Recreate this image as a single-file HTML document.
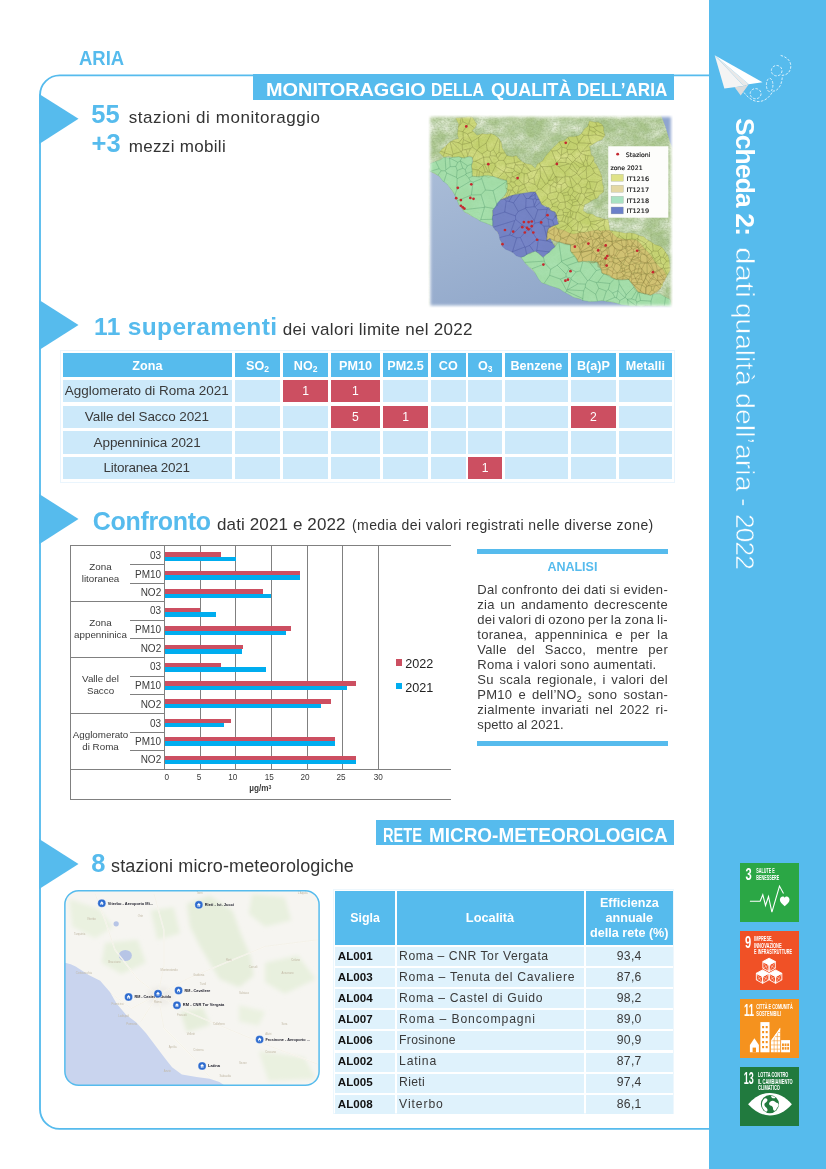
<!DOCTYPE html>
<html lang="it"><head><meta charset="utf-8"><title>Scheda 2: dati qualità dell'aria - 2022</title>
<style>
html,body{margin:0;padding:0;background:#fff}
body{width:826px;height:1169px;position:relative;overflow:hidden;font-family:"Liberation Sans",sans-serif}
.t{position:absolute;white-space:nowrap;display:block}
.a{position:absolute;display:block}
sub{font-size:68%;vertical-align:baseline;position:relative;top:.3em;line-height:0}
sup{font-size:62%;vertical-align:baseline;position:relative;top:-.45em;line-height:0}
</style></head><body>
<div class="a" style="left:708.5px;top:0;width:117.5px;height:1169px;background:#56bbed"></div>
<svg class="a" style="left:0;top:0" width="720" height="1169" viewBox="0 0 720 1169"><path d="M709,75.4 H59.7 A19.7,19.7 0 0 0 40,95.1 V1109.2 A19.7,19.7 0 0 0 59.7,1128.9 H709" fill="none" stroke="#56bbed" stroke-width="1.85"/></svg>
<svg class="a" style="left:38px;top:94.4px" width="44" height="49.9" viewBox="0 0 44 49.9"><polygon points="1.2,0 40.5,24.8 1.2,49.9" fill="#56bbed"/></svg>
<svg class="a" style="left:38px;top:299.8px" width="44" height="50.0" viewBox="0 0 44 50.0"><polygon points="1.2,0 40.5,24.9 1.2,50.0" fill="#56bbed"/></svg>
<svg class="a" style="left:38px;top:494.3px" width="44" height="50.2" viewBox="0 0 44 50.2"><polygon points="1.2,0 40.5,25.0 1.2,50.2" fill="#56bbed"/></svg>
<svg class="a" style="left:38px;top:838.9px" width="44" height="50.0" viewBox="0 0 44 50.0"><polygon points="1.2,0 40.5,25.1 1.2,50.0" fill="#56bbed"/></svg>
<div class="a" style="left:252.8px;top:74.3px;width:421px;height:25.7px;background:#56bbed"></div>
<div class="a" style="left:376.4px;top:820.3px;width:297.6px;height:25px;background:#56bbed"></div>
<div class="a" style="left:60.3px;top:350.2px;width:614.5px;height:132.5px;border:1px solid #eaf5fd;box-sizing:border-box"></div>
<div class="a" style="left:63px;top:353.3px;width:168.8px;height:23.6px;background:#56bbed"></div>
<div class="a" style="left:235px;top:353.3px;width:45.0px;height:23.6px;background:#56bbed"></div>
<div class="a" style="left:283.4px;top:353.3px;width:44.6px;height:23.6px;background:#56bbed"></div>
<div class="a" style="left:331px;top:353.3px;width:49.0px;height:23.6px;background:#56bbed"></div>
<div class="a" style="left:383.3px;top:353.3px;width:44.5px;height:23.6px;background:#56bbed"></div>
<div class="a" style="left:431px;top:353.3px;width:34.6px;height:23.6px;background:#56bbed"></div>
<div class="a" style="left:468.4px;top:353.3px;width:33.6px;height:23.6px;background:#56bbed"></div>
<div class="a" style="left:505.2px;top:353.3px;width:62.4px;height:23.6px;background:#56bbed"></div>
<div class="a" style="left:571.2px;top:353.3px;width:44.5px;height:23.6px;background:#56bbed"></div>
<div class="a" style="left:619px;top:353.3px;width:52.7px;height:23.6px;background:#56bbed"></div>
<div class="a" style="left:63px;top:379.7px;width:168.8px;height:22.8px;background:#cce9fa"></div>
<div class="a" style="left:235px;top:379.7px;width:45.0px;height:22.8px;background:#cce9fa"></div>
<div class="a" style="left:283.4px;top:379.7px;width:44.6px;height:22.8px;background:#cc4f61"></div>
<div class="a" style="left:331px;top:379.7px;width:49.0px;height:22.8px;background:#cc4f61"></div>
<div class="a" style="left:383.3px;top:379.7px;width:44.5px;height:22.8px;background:#cce9fa"></div>
<div class="a" style="left:431px;top:379.7px;width:34.6px;height:22.8px;background:#cce9fa"></div>
<div class="a" style="left:468.4px;top:379.7px;width:33.6px;height:22.8px;background:#cce9fa"></div>
<div class="a" style="left:505.2px;top:379.7px;width:62.4px;height:22.8px;background:#cce9fa"></div>
<div class="a" style="left:571.2px;top:379.7px;width:44.5px;height:22.8px;background:#cce9fa"></div>
<div class="a" style="left:619px;top:379.7px;width:52.7px;height:22.8px;background:#cce9fa"></div>
<div class="a" style="left:63px;top:405.5px;width:168.8px;height:22.7px;background:#cce9fa"></div>
<div class="a" style="left:235px;top:405.5px;width:45.0px;height:22.7px;background:#cce9fa"></div>
<div class="a" style="left:283.4px;top:405.5px;width:44.6px;height:22.7px;background:#cce9fa"></div>
<div class="a" style="left:331px;top:405.5px;width:49.0px;height:22.7px;background:#cc4f61"></div>
<div class="a" style="left:383.3px;top:405.5px;width:44.5px;height:22.7px;background:#cc4f61"></div>
<div class="a" style="left:431px;top:405.5px;width:34.6px;height:22.7px;background:#cce9fa"></div>
<div class="a" style="left:468.4px;top:405.5px;width:33.6px;height:22.7px;background:#cce9fa"></div>
<div class="a" style="left:505.2px;top:405.5px;width:62.4px;height:22.7px;background:#cce9fa"></div>
<div class="a" style="left:571.2px;top:405.5px;width:44.5px;height:22.7px;background:#cc4f61"></div>
<div class="a" style="left:619px;top:405.5px;width:52.7px;height:22.7px;background:#cce9fa"></div>
<div class="a" style="left:63px;top:431.3px;width:168.8px;height:22.7px;background:#cce9fa"></div>
<div class="a" style="left:235px;top:431.3px;width:45.0px;height:22.7px;background:#cce9fa"></div>
<div class="a" style="left:283.4px;top:431.3px;width:44.6px;height:22.7px;background:#cce9fa"></div>
<div class="a" style="left:331px;top:431.3px;width:49.0px;height:22.7px;background:#cce9fa"></div>
<div class="a" style="left:383.3px;top:431.3px;width:44.5px;height:22.7px;background:#cce9fa"></div>
<div class="a" style="left:431px;top:431.3px;width:34.6px;height:22.7px;background:#cce9fa"></div>
<div class="a" style="left:468.4px;top:431.3px;width:33.6px;height:22.7px;background:#cce9fa"></div>
<div class="a" style="left:505.2px;top:431.3px;width:62.4px;height:22.7px;background:#cce9fa"></div>
<div class="a" style="left:571.2px;top:431.3px;width:44.5px;height:22.7px;background:#cce9fa"></div>
<div class="a" style="left:619px;top:431.3px;width:52.7px;height:22.7px;background:#cce9fa"></div>
<div class="a" style="left:63px;top:457px;width:168.8px;height:22.3px;background:#cce9fa"></div>
<div class="a" style="left:235px;top:457px;width:45.0px;height:22.3px;background:#cce9fa"></div>
<div class="a" style="left:283.4px;top:457px;width:44.6px;height:22.3px;background:#cce9fa"></div>
<div class="a" style="left:331px;top:457px;width:49.0px;height:22.3px;background:#cce9fa"></div>
<div class="a" style="left:383.3px;top:457px;width:44.5px;height:22.3px;background:#cce9fa"></div>
<div class="a" style="left:431px;top:457px;width:34.6px;height:22.3px;background:#cce9fa"></div>
<div class="a" style="left:468.4px;top:457px;width:33.6px;height:22.3px;background:#cc4f61"></div>
<div class="a" style="left:505.2px;top:457px;width:62.4px;height:22.3px;background:#cce9fa"></div>
<div class="a" style="left:571.2px;top:457px;width:44.5px;height:22.3px;background:#cce9fa"></div>
<div class="a" style="left:619px;top:457px;width:52.7px;height:22.3px;background:#cce9fa"></div>
<div class="a" style="left:70px;top:545.20px;width:381.0px;height:1px;background:#808080"></div>
<div class="a" style="left:70px;top:768.80px;width:381.0px;height:1px;background:#808080"></div>
<div class="a" style="left:70px;top:798.90px;width:381.0px;height:1px;background:#808080"></div>
<div class="a" style="left:69.80px;top:545.2px;width:1px;height:254.7px;background:#808080"></div>
<div class="a" style="left:70px;top:600.70px;width:94.5px;height:1px;background:#808080"></div>
<div class="a" style="left:70px;top:656.80px;width:94.5px;height:1px;background:#808080"></div>
<div class="a" style="left:70px;top:712.90px;width:94.5px;height:1px;background:#808080"></div>
<div class="a" style="left:164.00px;top:545.7px;width:1px;height:223.6px;background:#808080"></div>
<div class="a" style="left:199.62px;top:545.7px;width:1px;height:223.6px;background:#808080"></div>
<div class="a" style="left:235.25px;top:545.7px;width:1px;height:223.6px;background:#808080"></div>
<div class="a" style="left:270.88px;top:545.7px;width:1px;height:223.6px;background:#808080"></div>
<div class="a" style="left:306.50px;top:545.7px;width:1px;height:223.6px;background:#808080"></div>
<div class="a" style="left:342.12px;top:545.7px;width:1px;height:223.6px;background:#808080"></div>
<div class="a" style="left:377.75px;top:545.7px;width:1px;height:223.6px;background:#808080"></div>
<div class="a" style="left:130.2px;top:564.00px;width:34.3px;height:1px;background:#808080"></div>
<div class="a" style="left:130.2px;top:582.90px;width:34.3px;height:1px;background:#808080"></div>
<div class="a" style="left:130.2px;top:619.70px;width:34.3px;height:1px;background:#808080"></div>
<div class="a" style="left:130.2px;top:638.10px;width:34.3px;height:1px;background:#808080"></div>
<div class="a" style="left:130.2px;top:675.70px;width:34.3px;height:1px;background:#808080"></div>
<div class="a" style="left:130.2px;top:693.80px;width:34.3px;height:1px;background:#808080"></div>
<div class="a" style="left:130.2px;top:731.80px;width:34.3px;height:1px;background:#808080"></div>
<div class="a" style="left:130.2px;top:749.50px;width:34.3px;height:1px;background:#808080"></div>
<div class="a" style="left:164.5px;top:552.4px;width:56.7px;height:4.5px;background:#cc4f61"></div>
<div class="a" style="left:164.5px;top:556.9px;width:71.2px;height:4.4px;background:#00adef"></div>
<div class="a" style="left:164.5px;top:570.8px;width:135.2px;height:4.5px;background:#cc4f61"></div>
<div class="a" style="left:164.5px;top:575.3px;width:135.2px;height:4.4px;background:#00adef"></div>
<div class="a" style="left:164.5px;top:589.3px;width:98.5px;height:4.5px;background:#cc4f61"></div>
<div class="a" style="left:164.5px;top:593.8px;width:106.7px;height:4.4px;background:#00adef"></div>
<div class="a" style="left:164.5px;top:607.8px;width:35.7px;height:4.5px;background:#cc4f61"></div>
<div class="a" style="left:164.5px;top:612.3px;width:51.2px;height:4.4px;background:#00adef"></div>
<div class="a" style="left:164.5px;top:626.2px;width:126.7px;height:4.5px;background:#cc4f61"></div>
<div class="a" style="left:164.5px;top:630.7px;width:121.5px;height:4.4px;background:#00adef"></div>
<div class="a" style="left:164.5px;top:644.7px;width:78.5px;height:4.5px;background:#cc4f61"></div>
<div class="a" style="left:164.5px;top:649.2px;width:77.9px;height:4.4px;background:#00adef"></div>
<div class="a" style="left:164.5px;top:662.9px;width:56.7px;height:4.5px;background:#cc4f61"></div>
<div class="a" style="left:164.5px;top:667.4px;width:101.4px;height:4.4px;background:#00adef"></div>
<div class="a" style="left:164.5px;top:681.3px;width:191.6px;height:4.5px;background:#cc4f61"></div>
<div class="a" style="left:164.5px;top:685.8px;width:182.5px;height:4.4px;background:#00adef"></div>
<div class="a" style="left:164.5px;top:699.2px;width:166.3px;height:4.5px;background:#cc4f61"></div>
<div class="a" style="left:164.5px;top:703.7px;width:156.1px;height:4.4px;background:#00adef"></div>
<div class="a" style="left:164.5px;top:718.6px;width:66.6px;height:4.5px;background:#cc4f61"></div>
<div class="a" style="left:164.5px;top:723.1px;width:59px;height:4.4px;background:#00adef"></div>
<div class="a" style="left:164.5px;top:736.9px;width:170.3px;height:4.5px;background:#cc4f61"></div>
<div class="a" style="left:164.5px;top:741.4px;width:170.3px;height:4.4px;background:#00adef"></div>
<div class="a" style="left:164.5px;top:755.6px;width:191.6px;height:4.5px;background:#cc4f61"></div>
<div class="a" style="left:164.5px;top:760.1px;width:191.6px;height:4.4px;background:#00adef"></div>
<div class="a" style="left:395.9px;top:659.2px;width:6.6px;height:6.5px;background:#cc4f61"></div>
<div class="a" style="left:395.9px;top:682.7px;width:6.6px;height:6.5px;background:#00adef"></div>
<div class="a" style="left:477px;top:549.4px;width:191px;height:4.7px;background:#56bbed"></div>
<div class="a" style="left:477px;top:741.4px;width:191px;height:4.7px;background:#56bbed"></div>
<div class="a" style="left:333.2px;top:889.4px;width:341px;height:225px;border:1px solid #edf7fd;box-sizing:border-box"></div>
<div class="a" style="left:334.7px;top:890.9px;width:60.0px;height:54px;background:#56bbed"></div>
<div class="a" style="left:396.7px;top:890.9px;width:187.0px;height:54px;background:#56bbed"></div>
<div class="a" style="left:585.7px;top:890.9px;width:87.2px;height:54px;background:#56bbed"></div>
<div class="a" style="left:334.7px;top:946.7px;width:60.0px;height:19px;background:#dff2fc"></div>
<div class="a" style="left:396.7px;top:946.7px;width:187.0px;height:19px;background:#dff2fc"></div>
<div class="a" style="left:585.7px;top:946.7px;width:87.2px;height:19px;background:#dff2fc"></div>
<div class="a" style="left:334.7px;top:967.9px;width:60.0px;height:19px;background:#dff2fc"></div>
<div class="a" style="left:396.7px;top:967.9px;width:187.0px;height:19px;background:#dff2fc"></div>
<div class="a" style="left:585.7px;top:967.9px;width:87.2px;height:19px;background:#dff2fc"></div>
<div class="a" style="left:334.7px;top:989.0px;width:60.0px;height:19px;background:#dff2fc"></div>
<div class="a" style="left:396.7px;top:989.0px;width:187.0px;height:19px;background:#dff2fc"></div>
<div class="a" style="left:585.7px;top:989.0px;width:87.2px;height:19px;background:#dff2fc"></div>
<div class="a" style="left:334.7px;top:1010.2px;width:60.0px;height:19px;background:#dff2fc"></div>
<div class="a" style="left:396.7px;top:1010.2px;width:187.0px;height:19px;background:#dff2fc"></div>
<div class="a" style="left:585.7px;top:1010.2px;width:87.2px;height:19px;background:#dff2fc"></div>
<div class="a" style="left:334.7px;top:1031.3px;width:60.0px;height:19px;background:#dff2fc"></div>
<div class="a" style="left:396.7px;top:1031.3px;width:187.0px;height:19px;background:#dff2fc"></div>
<div class="a" style="left:585.7px;top:1031.3px;width:87.2px;height:19px;background:#dff2fc"></div>
<div class="a" style="left:334.7px;top:1052.5px;width:60.0px;height:19px;background:#dff2fc"></div>
<div class="a" style="left:396.7px;top:1052.5px;width:187.0px;height:19px;background:#dff2fc"></div>
<div class="a" style="left:585.7px;top:1052.5px;width:87.2px;height:19px;background:#dff2fc"></div>
<div class="a" style="left:334.7px;top:1073.6px;width:60.0px;height:19px;background:#dff2fc"></div>
<div class="a" style="left:396.7px;top:1073.6px;width:187.0px;height:19px;background:#dff2fc"></div>
<div class="a" style="left:585.7px;top:1073.6px;width:87.2px;height:19px;background:#dff2fc"></div>
<div class="a" style="left:334.7px;top:1094.8px;width:60.0px;height:19px;background:#dff2fc"></div>
<div class="a" style="left:396.7px;top:1094.8px;width:187.0px;height:19px;background:#dff2fc"></div>
<div class="a" style="left:585.7px;top:1094.8px;width:87.2px;height:19px;background:#dff2fc"></div>
<svg class="a" style="left:705px;top:45px" width="100" height="70" viewBox="0 0 826 578">
<polygon points="80,85 160,360 320,338" fill="#f4f4f4"/>
<polygon points="80,85 320,338 362,325" fill="#e9e9e9"/>
<polygon points="245,349 295,416 362,325 320,338" fill="#dcdcdc"/>
<polygon points="80,85 475,308 362,325" fill="#ffffff"/>
<g fill="none" stroke="#ffffff" stroke-width="6.4" stroke-dasharray="21 12" stroke-linecap="butt">
<path d="M322,392 C350,430 395,468 445,467 C505,464 545,415 560,380 C600,385 640,330 638,250 C690,250 720,200 705,150 C695,115 660,95 625,86"/>
<ellipse cx="418" cy="402" rx="45" ry="42"/>
<ellipse cx="534" cy="330" rx="27" ry="55"/>
<ellipse cx="592" cy="212" rx="44" ry="43"/>
</g></svg>
<svg class="a" style="left:739.8px;top:862.7px" width="59" height="59" viewBox="0 0 59 59" font-family="Liberation Sans, sans-serif" fill="#fff">
<rect width="59" height="59" fill="#2ba745"/>
<text x="5.4" y="16.7" font-size="15.8" font-weight="700" textLength="6.2" lengthAdjust="spacingAndGlyphs">3</text><text x="16.3" y="10.1" font-size="6.6" font-weight="700" textLength="18.4" lengthAdjust="spacingAndGlyphs">SALUTE E</text><text x="16.3" y="16.55" font-size="6.6" font-weight="700" textLength="23" lengthAdjust="spacingAndGlyphs">BENESSERE</text>
<polyline points="9.9,38.3 20.1,38.3 22.8,31.7 25.5,42.5 28.5,33.5 31.9,49.1 39.5,23.1 43.5,30.5" fill="none" stroke="#fff" stroke-width="1.1" stroke-linejoin="miter"/>
<path d="M44.7,43.3 C42,41 39.9,39.2 39.9,36.8 C39.9,34.9 41.2,33.6 42.7,33.6 C43.6,33.6 44.3,34.1 44.7,34.8 C45.1,34.1 45.8,33.6 46.7,33.6 C48.2,33.6 49.5,34.9 49.5,36.8 C49.5,39.2 47.4,41 44.7,43.3Z"/></svg>
<svg class="a" style="left:739.8px;top:930.7px" width="59" height="59" viewBox="0 0 59 59" font-family="Liberation Sans, sans-serif" fill="#fff">
<rect width="59" height="59" fill="#f05126"/>
<text x="5.0" y="16.7" font-size="15.8" font-weight="700" textLength="6.2" lengthAdjust="spacingAndGlyphs">9</text><text x="14.1" y="10.1" font-size="6.6" font-weight="700" textLength="18.6" lengthAdjust="spacingAndGlyphs">IMPRESE,</text><text x="14.1" y="16.55" font-size="6.6" font-weight="700" textLength="27.6" lengthAdjust="spacingAndGlyphs">INNOVAZIONE</text><text x="14.1" y="23.0" font-size="6.6" font-weight="700" textLength="37.8" lengthAdjust="spacingAndGlyphs">E INFRASTRUTTURE</text>
<g stroke-linejoin="round"><polygon points="29.1,27.2 35.331,30.549999999999997 29.1,33.9 22.869,30.549999999999997" fill="#fff" stroke="#fff" stroke-width=".9"/><polygon points="22.869,30.549999999999997 29.1,33.9 29.1,40.6 22.869,37.25" fill="none" stroke="#fff" stroke-width=".9"/><polygon points="35.331,30.549999999999997 29.1,33.9 29.1,40.6 35.331,37.25" fill="none" stroke="#fff" stroke-width=".9"/><path d="M22.869,30.549999999999997 L29.1,40.6 M29.1,33.9 L22.869,37.25" stroke="#fff" stroke-width=".45" fill="none"/><path d="M35.331,30.549999999999997 L29.1,40.6 M29.1,33.9 L35.331,37.25" stroke="#fff" stroke-width=".45" fill="none"/><polygon points="22.6,38.9 28.831000000000003,42.25 22.6,45.6 16.369,42.25" fill="#fff" stroke="#fff" stroke-width=".9"/><polygon points="16.369,42.25 22.6,45.6 22.6,52.300000000000004 16.369,48.95" fill="none" stroke="#fff" stroke-width=".9"/><polygon points="28.831000000000003,42.25 22.6,45.6 22.6,52.300000000000004 28.831000000000003,48.95" fill="none" stroke="#fff" stroke-width=".9"/><path d="M16.369,42.25 L22.6,52.300000000000004 M22.6,45.6 L16.369,48.95" stroke="#fff" stroke-width=".45" fill="none"/><path d="M28.831000000000003,42.25 L22.6,52.300000000000004 M22.6,45.6 L28.831000000000003,48.95" stroke="#fff" stroke-width=".45" fill="none"/><polygon points="35.6,38.9 41.831,42.25 35.6,45.6 29.369,42.25" fill="#fff" stroke="#fff" stroke-width=".9"/><polygon points="29.369,42.25 35.6,45.6 35.6,52.300000000000004 29.369,48.95" fill="none" stroke="#fff" stroke-width=".9"/><polygon points="41.831,42.25 35.6,45.6 35.6,52.300000000000004 41.831,48.95" fill="none" stroke="#fff" stroke-width=".9"/><path d="M29.369,42.25 L35.6,52.300000000000004 M35.6,45.6 L29.369,48.95" stroke="#fff" stroke-width=".45" fill="none"/><path d="M41.831,42.25 L35.6,52.300000000000004 M35.6,45.6 L41.831,48.95" stroke="#fff" stroke-width=".45" fill="none"/></g></svg>
<svg class="a" style="left:739.8px;top:998.6px" width="59" height="59" viewBox="0 0 59 59" font-family="Liberation Sans, sans-serif" fill="#fff">
<rect width="59" height="59" fill="#f5921e"/>
<text x="4.0" y="16.7" font-size="15.8" font-weight="700" textLength="10.0" lengthAdjust="spacingAndGlyphs">11</text><text x="16.3" y="10.1" font-size="6.6" font-weight="700" textLength="36.4" lengthAdjust="spacingAndGlyphs">CITTÀ E COMUNITÀ</text><text x="16.3" y="16.55" font-size="6.6" font-weight="700" textLength="24.7" lengthAdjust="spacingAndGlyphs">SOSTENIBILI</text>
<polygon points="9.9,46 14.4,39.3 18.9,46 18.9,53.3 9.9,53.3"/><rect x="12.60" y="48.60" width="3.4" height="4.7" fill="#f5921e"/><rect x="20.4" y="23.1" width="9.1" height="30.2"/><rect x="22.10" y="27.00" width="2" height="2.2" fill="#f5921e"/><rect x="25.70" y="27.00" width="2" height="2.2" fill="#f5921e"/><rect x="22.10" y="32.00" width="2" height="2.2" fill="#f5921e"/><rect x="25.70" y="32.00" width="2" height="2.2" fill="#f5921e"/><rect x="22.10" y="37.00" width="2" height="2.2" fill="#f5921e"/><rect x="25.70" y="37.00" width="2" height="2.2" fill="#f5921e"/><rect x="22.10" y="42.00" width="2" height="2.2" fill="#f5921e"/><rect x="25.70" y="42.00" width="2" height="2.2" fill="#f5921e"/><rect x="22.10" y="47.00" width="2" height="2.2" fill="#f5921e"/><rect x="25.70" y="47.00" width="2" height="2.2" fill="#f5921e"/><polygon points="30.9,41.7 40.2,28.7 40.2,53.3 30.9,53.3"/><rect x="30.9" y="33.40" width="9.3" height=".55" fill="#f5921e"/><rect x="30.9" y="37.50" width="9.3" height=".55" fill="#f5921e"/><rect x="30.9" y="41.60" width="9.3" height=".55" fill="#f5921e"/><rect x="30.9" y="45.70" width="9.3" height=".55" fill="#f5921e"/><rect x="30.9" y="49.80" width="9.3" height=".55" fill="#f5921e"/><rect x="33.80" y="30" width=".55" height="23.3" fill="#f5921e"/><rect x="36.90" y="30" width=".55" height="23.3" fill="#f5921e"/><polygon points="30.9,41.7 40.2,28.7 40.2,30.6 32.2,41.7" fill="#fff"/><rect x="41.1" y="41.1" width="8.9" height="12.2"/><rect x="42.00" y="44.50" width="1.9" height="2.6" fill="#f5921e"/><rect x="44.60" y="44.50" width="1.9" height="2.6" fill="#f5921e"/><rect x="47.20" y="44.50" width="1.9" height="2.6" fill="#f5921e"/><rect x="42.00" y="48.10" width="1.9" height="2.6" fill="#f5921e"/><rect x="44.60" y="48.10" width="1.9" height="2.6" fill="#f5921e"/><rect x="47.20" y="48.10" width="1.9" height="2.6" fill="#f5921e"/></svg>
<svg class="a" style="left:739.8px;top:1066.7px" width="59" height="59" viewBox="0 0 59 59" font-family="Liberation Sans, sans-serif" fill="#fff">
<rect width="59" height="59" fill="#217a3e"/>
<text x="3.8" y="16.7" font-size="15.8" font-weight="700" textLength="10.0" lengthAdjust="spacingAndGlyphs">13</text><text x="18" y="10.1" font-size="6.6" font-weight="700" textLength="30.3" lengthAdjust="spacingAndGlyphs">LOTTA CONTRO</text><text x="18" y="16.55" font-size="6.6" font-weight="700" textLength="34.7" lengthAdjust="spacingAndGlyphs">IL CAMBIAMENTO</text><text x="18" y="23.0" font-size="6.6" font-weight="700" textLength="21.9" lengthAdjust="spacingAndGlyphs">CLIMATICO</text>
<path d="M8.1,37.2 C15,29.5 22,25.9 29.9,25.9 C37.8,25.9 45,29.5 51.9,37.2 C45,44.8 37.8,48.4 29.9,48.4 C22,48.4 15,44.8 8.1,37.2Z"/>
<circle cx="29.9" cy="37.1" r="9.1" fill="#217a3e"/>
<path d="M24.5,31.5 C26.5,30.8 28,32.3 27.2,34 C26.3,35.8 24.6,35.4 24.4,37.6 C24.2,39.8 26.5,40.2 27.3,42 C27.9,43.5 27,45 25.6,44.6 C23,42.5 21.6,39.5 22,36.3 C22.3,34.3 23.2,32.6 24.5,31.5Z M30.5,34.5 C32,33.3 34,33.8 35.4,35 C36.8,36.2 38.4,35.6 38.6,37.6 C38.7,39.6 37,40.3 36.4,42 C35.9,43.6 34.6,44.4 33.6,43.3 C32.7,42.2 33.5,40.6 32.3,39.5 C31.1,38.4 29.3,38.6 29.1,37 C29,35.9 29.7,35.1 30.5,34.5Z M31,29.1 C32.5,28.8 34.6,29.6 35.5,30.9 C34.3,31.5 32.9,31.4 31.8,30.7Z"/></svg>
<svg class="a" style="left:420px;top:105px;filter:blur(.45px)" width="260" height="210" viewBox="0 0 826 667" font-family="DejaVu Sans, Liberation Sans, sans-serif">
<defs>
<filter id="terr" x="0" y="0" width="100%" height="100%"><feTurbulence type="fractalNoise" baseFrequency="0.018 0.022" numOctaves="3" seed="11"/><feColorMatrix type="matrix" values="0 0 0 0 0.86  0 0 0 0 0.91  0 0 0 0 0.80  1.9 0 0 0 -0.68"/></filter>
<filter id="terr2" x="0" y="0" width="100%" height="100%"><feTurbulence type="fractalNoise" baseFrequency="0.05 0.06" numOctaves="2" seed="4"/><feColorMatrix type="matrix" values="0 0 0 0 0.47  0 0 0 0 0.62  0 0 0 0 0.38  0 1.8 0 0 -0.62"/></filter>
<filter id="soft" x="-5%" y="-5%" width="110%" height="110%"><feGaussianBlur stdDeviation="5"/></filter>
<mask id="m1"><rect x="33" y="38" width="764" height="599" fill="#fff" filter="url(#soft)"/></mask>
<linearGradient id="sg" x1="0" y1="0" x2=".6" y2="1"><stop offset="0" stop-color="#a9bcd7"/><stop offset="1" stop-color="#8fa6c9"/></linearGradient>
<filter id="grain" x="0" y="0" width="100%" height="100%"><feTurbulence type="fractalNoise" baseFrequency="0.16 0.2" numOctaves="2" seed="9"/><feColorMatrix type="matrix" values="0 0 0 0 0.25  0 0 0 0 0.35  0 0 0 0 0.15  0 0 1.5 0 -0.55"/></filter>
<clipPath id="c1"><rect x="26" y="31" width="778" height="613"/></clipPath>
</defs>
<g clip-path="url(#c1)"><g mask="url(#m1)">
<rect x="20" y="25" width="790" height="625" fill="#aac68c"/>
<rect x="20" y="25" width="790" height="625" filter="url(#terr)"/>
<rect x="20" y="25" width="790" height="625" filter="url(#terr2)" opacity=".7"/>
<rect x="20" y="25" width="790" height="625" filter="url(#grain)" opacity=".6"/>
<polygon points="765,30 810,30 810,150 795,120 780,70" fill="#8fa5cf"/>
<polygon points="30,210 61,226 86,251 111,286 123,316 141,340 166,354 206,374 231,384 251,414 261,449 296,469 321,484 336,504 366,534 386,564 429,579 443,584 488,611 538,624 578,621 623,629 673,639 800,640 800,660 30,660" fill="url(#sg)"/>
<polygon points="61,151 69,141 80,132 91,121 108,110 123,106 119,94 121,74 123,61 113,41 130,40 142,39 154,36 166,38 175,52 181,61 174,73 166,81 181,96 197,91 213,93 226,91 237,95 251,106 259,121 261,136 270,152 276,161 293,164 306,161 315,172 326,181 336,186 354,190 366,201 373,187 390,177 396,166 406,154 413,146 423,135 432,127 443,116 459,112 473,101 488,101 503,98 513,91 523,75 533,68 538,51 555,55 566,55 578,61 584,73 583,81 588,96 578,110 563,116 547,126 538,131 541,141 544,158 552,165 553,181 560,189 567,202 575,219 578,226 579,242 579,248 583,260 583,276 571,285 563,296 551,300 533,312 523,316 518,335 531,345 549,347 560,355 572,358 586,362 598,364 601,382 603,399 624,402 638,404 652,407 666,406 683,409 700,416 710,418 723,429 736,436 746,443 763,449 772,455 781,469 788,479 792,493 794,511 795,524 783,544 773,554 771,574 763,584 751,590 744,596 733,604 719,599 705,598 693,594 684,583 680,570 671,566 663,554 648,552 639,552 623,554 609,548 602,541 588,538 578,534 576,522 571,508 563,499 550,500 542,499 525,496 515,497 503,499 497,490 484,474 478,464 478,444 468,442 455,437 440,435 424,428 413,424 402,430 406,416 405,404 408,392 423,384 440,378 440,363 429,356 429,340 421,338 407,332 400,320 386,316 381,305 374,289 366,276 350,277 336,277 325,280 312,280 296,286 286,293 273,299 256,301 269,289 276,275 272,259 276,240 258,234 247,231 231,226 217,230 206,225 190,229 179,228 166,226 165,212 166,205 163,192 169,180 166,166 156,162 141,169 124,164 113,166 101,166 91,162 76,166" fill="#d2d85c" fill-opacity=".62"/>
<polygon points="408,392 413,384 424,387 443,396 455,397 477,408 488,410 498,408 514,404 528,404 543,400 556,399 565,398 576,400 593,398 603,399 611,407 625,420 639,425 655,428 675,428 690,430 703,443 712,455 723,466 735,480 743,494 752,505 761,515 772,522 777,531 783,544 777,559 766,570 763,584 752,594 746,596 733,604 723,603 704,597 693,594 682,587 679,577 673,565 663,554 652,555 633,555 623,554 608,546 603,540 586,536 578,534 576,520 564,513 563,499 548,502 540,502 531,500 517,495 503,499 497,487 488,473 478,464 478,444 467,444 449,437 440,435 427,432 413,424 402,430 402,415 404,406" fill="#d2bd72" fill-opacity=".82"/>
<polygon points="30,210 33,186 45,181 64,175 76,166 90,168 105,166 122,164 134,168 150,165 166,166 166,182 163,195 166,211 166,226 181,227 201,225 215,224 231,226 245,232 259,238 276,240 278,255 276,275 269,287 256,301 245,319 231,334 230,352 232,369 231,384 206,374 191,369 182,362 166,354 154,345 141,340 132,327 123,316 118,302 111,286 103,272 95,263 86,251 72,241 61,226 46,216" fill="#a0dfaa" fill-opacity=".88"/>
<polygon points="321,484 339,475 350,472 366,464 379,474 391,484 405,472 415,459 429,450 440,435 456,441 478,444 478,464 488,476 496,486 503,499 517,498 535,496 548,497 563,499 572,516 578,534 592,540 608,549 623,554 642,556 663,554 671,566 681,578 693,594 715,600 733,604 746,600 763,600 778,610 795,618 800,640 788,641 772,638 757,638 744,640 728,638 717,637 703,642 690,638 673,639 657,636 640,635 623,629 609,625 595,624 578,621 559,624 538,624 518,621 506,615 488,611 473,602 456,593 443,584 429,579 412,574 401,569 386,564 376,552 366,534 358,522 348,515 336,504" fill="#a0dfaa" fill-opacity=".88"/>
<polygon points="256,301 271,295 282,290 296,286 309,284 321,282 341,279 353,276 366,276 374,291 380,303 386,316 397,323 410,326 416,335 429,340 435,353 436,367 440,378 422,384 408,392 404,405 403,416 402,430 413,424 422,440 429,450 418,460 409,469 401,474 391,484 377,471 366,464 355,468 342,473 331,481 321,484 306,479 296,469 284,463 272,458 261,449 260,438 254,427 251,414 246,403 239,397 231,384 231,370 229,360 232,349 231,334 241,321 246,311" fill="#6f7dc7" fill-opacity=".93"/>
<g fill="none" stroke-width="1.25" stroke-linejoin="round">
<path d="M78,152L78,151L65,147L61,151L73,163ZM73,163L76,166L91,162L101,166L103,166L103,160L78,152ZM123,120L137,103L137,85L136,84L120,82L119,94L123,106L108,110L100,115ZM78,151L78,152L103,160L105,156L96,118L91,121L86,126ZM78,151L86,126L80,132L69,141L65,147ZM182,206L166,203L166,205L165,212L166,226L179,228L180,228ZM103,160L103,166L113,166L124,164L141,169L142,169L131,148L105,156ZM105,156L131,148L131,148L99,116L96,118ZM131,148L142,169L150,165L152,158L146,141L135,143L131,148ZM159,120L138,110L135,125ZM135,125L134,126L135,143L146,141L160,138L167,134L163,120L159,120ZM100,115L99,116L131,148L135,143L134,126L123,120ZM126,64L131,40L130,40L113,41L123,61L121,72ZM136,53L153,61L155,59L162,37L154,36L142,39L134,40ZM136,84L153,61L136,53L126,64L121,72L121,74L120,82ZM134,126L135,125L138,110L137,103L123,120ZM126,64L136,53L134,40L131,40ZM137,85L151,92L169,84L166,81L173,73L155,59L153,61L136,84ZM137,103L138,110L159,120L163,120L164,117L151,92L137,85ZM160,138L152,158L150,165L156,162L166,166L167,170L181,144L167,134ZM146,141L152,158L160,138ZM163,120L167,134L181,144L181,144L188,136L186,103L164,117ZM182,206L185,206L200,191L200,191L176,179L169,179L169,180L163,192L166,203ZM151,92L164,117L186,103L199,91L197,91L181,96L169,84ZM155,59L173,73L174,73L181,61L175,52L166,38L162,37ZM450,133L451,134L465,137L477,116L470,103L459,112L443,116L442,117ZM516,486L509,468L509,467L508,466L481,469L484,474L497,490L503,499L515,497L516,496ZM189,210L185,206L182,206L180,228L187,229ZM282,270L273,264L276,275L269,289L256,301L272,299ZM185,206L189,210L201,216L207,213L200,191ZM186,103L188,136L210,121L226,91L213,93L199,91ZM167,170L169,179L176,179L202,166L197,155L181,144L181,144ZM181,144L197,155L214,144L210,121L188,136ZM200,191L207,213L217,213L204,188L200,191ZM200,191L204,188L204,188L202,166L202,166L176,179ZM210,121L214,144L224,148L233,142L249,105L237,95L226,91L226,91ZM201,216L189,210L187,229L190,229L201,226ZM201,216L201,226L206,225L217,230L231,226L228,218L221,214L217,213L207,213ZM202,166L220,165L223,161L224,148L214,144L197,155L202,166ZM217,213L221,214L216,188L204,188L204,188ZM231,226L231,226L247,231L249,231L267,212L239,195L228,218ZM220,165L230,184L238,186L250,176L247,169L243,162L223,161ZM220,165L202,166L204,188L216,188L230,184ZM216,188L221,214L228,218L239,195L238,186L230,184ZM251,150L258,153L271,152L270,152L261,136L259,121L254,112ZM249,231L258,234L273,239L279,227L270,214L267,212L267,212ZM239,195L267,212L267,212L273,197L273,188L266,176L250,176L238,186ZM223,161L243,162L243,157L233,142L224,148ZM233,142L243,157L251,150L254,112L251,106L249,105ZM243,162L247,169L258,153L251,150L243,157ZM247,169L250,176L266,176L276,160L271,152L258,153ZM279,227L289,232L293,228L293,215L270,214ZM301,183L302,184L321,177L315,172L306,161L298,163ZM270,214L293,215L300,209L298,203L273,197L267,212ZM273,188L301,183L298,163L293,164L276,161L276,160L266,176ZM447,426L445,412L438,394L429,382L423,384L408,392L405,404L406,416L402,430L413,424L424,428L440,435L442,435ZM282,270L290,270L294,270L295,264L283,249L274,251L272,259L273,264ZM289,244L289,232L279,227L273,239L276,240L274,251L283,249ZM283,249L295,264L306,256L299,245L289,244ZM294,270L290,270L278,297L286,293L296,286L304,283ZM272,299L273,299L278,297L290,270L282,270ZM289,232L289,244L299,245L307,237L296,228L293,228ZM419,146L435,145L450,133L442,117L432,127L423,135L415,143ZM298,203L303,189L302,184L301,183L273,188L273,197ZM299,245L306,256L315,258L327,252L312,235L307,237ZM316,217L323,214L324,207L306,190L303,189L298,203L300,209ZM300,209L293,215L293,228L296,228L316,218L316,217ZM295,264L294,270L304,283L309,281L310,278L315,258L306,256ZM307,237L312,235L316,218L296,228ZM316,217L316,218L312,235L327,252L330,252L331,218L323,214ZM309,281L312,280L325,280L336,277L342,277L335,262L310,278ZM315,258L310,278L335,262L331,252L330,252L327,252ZM384,195L388,196L417,195L431,189L433,183L419,146L415,143L413,146L406,154L396,166L390,177L379,184ZM306,190L330,190L332,186L333,185L326,181L321,177L302,184L303,189ZM324,207L330,193L330,190L306,190ZM330,190L330,193L352,211L352,211L332,186ZM323,214L331,218L340,218L352,211L330,193L324,207ZM421,322L420,316L414,302L405,296L385,313L386,316L400,320L407,332L411,333ZM342,277L350,277L366,276L366,276L376,267L372,259L366,253L344,245L331,252L335,262ZM330,252L331,252L344,245L347,237L340,218L331,218ZM352,211L340,218L347,237L362,231L375,205L352,211ZM332,186L352,211L375,205L381,200L384,195L379,184L373,187L366,201L354,190L336,186L333,185ZM366,276L374,289L381,305L385,313L405,296L405,285L384,267L376,267ZM366,253L372,259L383,227L381,200L375,205L362,231ZM362,231L347,237L344,245L366,253ZM376,267L384,267L399,252L383,227L372,259ZM383,227L399,252L405,249L409,240L388,196L384,195L381,200ZM405,285L413,280L414,255L405,249L399,252L384,267ZM409,240L410,240L424,215L417,195L388,196ZM414,302L435,297L441,279L434,275L413,280L405,285L405,296ZM409,240L405,249L414,255L415,255L427,245L421,238L410,240ZM433,183L435,182L447,169L448,161L435,145L419,146ZM410,240L421,238L430,227L424,215ZM413,280L434,275L431,262L415,255L414,255ZM431,262L436,251L435,249L433,247L427,245L415,255ZM427,245L433,247L431,227L430,227L421,238ZM424,215L430,227L431,227L434,228L452,230L461,228L462,226L460,214L441,196L431,189L417,195ZM450,369L457,351L456,349L431,352L429,355L429,356L440,363L440,371ZM439,304L444,310L461,308L461,308L456,287L451,281L448,278L441,279L435,297ZM435,297L414,302L420,316L439,304ZM411,333L421,338L429,340L429,355L431,352L442,332L436,324L421,322ZM434,275L441,279L448,278L448,277L449,253L436,251L431,262ZM442,332L453,333L462,326L461,308L444,310L436,324ZM420,316L421,322L436,324L444,310L439,304ZM435,249L437,247L434,228L431,227L433,247ZM431,352L456,349L455,341L453,333L442,332ZM436,251L449,253L461,245L461,228L452,230L437,247L435,249ZM521,96L534,96L538,79L539,69L535,61L533,68L523,75L513,91ZM448,161L449,159L451,134L450,133L435,145ZM437,247L452,230L434,228ZM448,161L447,169L465,168L469,167L471,157L468,148L449,159ZM431,189L441,196L473,187L463,183L435,182L433,183ZM448,277L470,259L461,245L449,253ZM460,214L475,200L480,188L473,187L441,196ZM448,278L451,281L470,276L478,262L470,259L448,277ZM438,394L469,379L469,378L459,372L450,369L440,371L440,378L429,382ZM459,372L464,353L457,351L450,369ZM453,333L455,341L471,342L478,334L477,333L462,326ZM457,351L464,353L466,353L471,342L455,341L456,349ZM445,412L471,382L469,379L469,379L438,394ZM449,159L468,148L468,141L465,137L451,134ZM447,426L474,415L483,398L480,390L471,382L445,412ZM469,379L488,362L480,357L477,356L471,356L469,378L469,379ZM459,372L469,378L471,356L466,353L464,353ZM477,116L499,125L504,120L504,119L497,99L488,101L473,101L470,103ZM447,169L435,182L463,183L465,168ZM461,228L461,245L470,259L478,262L484,263L475,228L462,226ZM468,148L471,157L480,156L494,142L468,141ZM465,168L463,183L473,187L480,188L482,186L484,182L469,167ZM461,308L468,306L476,301L478,288L472,286L456,287ZM456,287L472,286L470,276L451,281ZM471,342L466,353L471,356L477,356L479,335L478,334ZM461,308L462,326L477,333L484,320L483,318L468,306L461,308ZM469,167L484,182L487,181L491,176L495,171L480,156L471,157ZM442,435L455,437L468,442L478,444L478,447L498,436L495,429L474,415L447,426ZM480,390L502,370L493,362L488,362L469,379L471,382ZM470,276L472,286L478,288L482,285L488,273L484,263L484,263L478,262ZM479,335L487,339L497,341L501,339L509,317L509,317L484,320L477,333L478,334ZM462,226L475,228L480,228L498,218L498,217L475,200L460,214ZM483,318L485,309L482,302L476,301L468,306ZM477,356L480,357L487,339L479,335ZM495,429L495,428L506,403L500,400L483,398L474,415ZM475,200L498,217L500,212L482,186L480,188ZM468,141L494,142L501,139L499,125L477,116L465,137ZM499,125L501,139L510,152L515,148L539,122L504,120ZM476,301L482,302L494,299L492,295L482,285L478,288ZM480,156L495,171L506,163L511,154L510,152L501,139L494,142ZM483,318L484,320L509,317L501,305L485,309ZM488,362L493,362L497,341L487,339L480,357ZM484,263L498,251L480,228L475,228L484,263ZM482,186L500,212L508,199L487,181L484,182ZM482,302L485,309L501,305L500,305L494,299ZM482,285L492,295L504,280L488,273ZM502,370L503,371L508,370L529,357L501,339L497,341L493,362ZM487,181L508,199L522,194L521,192L491,176ZM498,218L504,223L528,204L529,196L522,194L508,199L500,212L498,217ZM494,299L500,305L510,281L504,280L492,295ZM480,228L498,251L503,250L514,235L504,223L498,218ZM488,273L504,280L510,281L513,280L512,263L503,250L498,251L484,263ZM478,447L478,464L481,469L508,466L508,442L498,436ZM495,428L514,417L507,403L506,403ZM501,305L509,317L509,317L513,317L525,294L525,294L521,283L513,280L510,281L500,305ZM483,398L500,400L503,371L502,370L480,390ZM495,429L498,436L508,442L525,434L525,433L514,417L495,428ZM509,467L541,449L525,434L508,442L508,466ZM500,400L506,403L507,403L508,403L517,388L508,370L503,371ZM491,176L521,192L519,186L506,163L495,171ZM506,163L519,186L526,172L525,159L511,154ZM504,119L521,96L513,91L513,91L503,98L497,99ZM501,339L529,357L535,357L541,346L531,345L518,335L522,322L513,317L509,317ZM521,192L522,194L529,196L534,194L530,178L526,172L519,186ZM514,417L525,433L535,421L522,405L508,403L507,403ZM517,388L535,387L541,382L542,377L541,371L535,357L529,357L508,370ZM514,235L529,234L530,232L528,204L504,223ZM504,120L539,122L542,122L534,97L534,96L521,96L504,119ZM503,250L512,263L527,260L534,241L529,234L514,235ZM521,283L525,280L531,266L527,260L512,263L513,280ZM563,67L580,65L578,61L566,55L558,55ZM539,69L551,71L563,67L558,55L555,55L538,51L535,61ZM525,433L525,434L541,449L545,452L560,428L559,427L549,417L541,418L535,421ZM513,317L522,322L523,316L533,312L545,304L525,294ZM534,194L539,193L553,172L552,165L548,162L534,161L530,178ZM525,159L534,161L548,162L544,158L541,143L515,148L510,152L511,154ZM508,403L522,405L532,395L535,387L517,388ZM541,371L584,364L588,362L588,362L586,362L572,358L560,355L549,347L541,346L535,357ZM541,418L532,395L522,405L535,421ZM532,395L541,418L549,417L553,405L554,401L541,382L535,387ZM528,204L530,232L554,216L548,202L539,193L534,194L529,196ZM526,172L530,178L534,161L525,159ZM515,148L541,143L541,141L538,131L547,126L548,125L542,122L539,122ZM509,468L548,460L547,455L545,452L541,449L509,467ZM529,234L534,241L538,243L563,245L579,237L578,229L554,216L530,232ZM516,486L552,467L548,460L509,468ZM516,496L525,496L542,499L550,500L555,500L561,475L552,467L516,486ZM547,455L575,442L560,428L545,452ZM521,283L525,294L553,281L552,277L525,280ZM525,294L545,304L551,300L558,298L553,281L525,294ZM527,260L531,266L543,266L538,243L534,241ZM560,95L534,97L542,122L548,125L563,116L578,110L585,101ZM534,97L560,95L555,86L538,79L534,96ZM553,274L563,245L538,243L543,266L553,274ZM553,274L552,277L553,281L558,298L563,296L571,285L583,276L583,273L553,274ZM525,280L552,277L553,274L543,266L531,266ZM541,382L554,401L566,394L569,389L558,380L542,377ZM548,202L565,197L560,189L553,181L553,172L539,193ZM572,508L581,498L581,495L563,500L571,508L571,508ZM561,475L569,473L578,446L576,443L575,442L547,455L548,460L552,467ZM585,101L588,96L588,95L560,80L555,86L560,95ZM551,71L560,80L588,95L583,81L584,73L580,65L563,67ZM555,86L560,80L551,71L539,69L538,79ZM578,229L578,226L575,219L567,202L565,197L548,202L554,216ZM558,380L584,364L541,371L542,377ZM549,417L559,427L568,422L570,418L562,406L553,405ZM553,274L583,273L583,260L579,248L579,242L579,237L563,245ZM553,405L562,406L576,409L577,408L578,407L566,394L554,401ZM560,428L575,442L576,443L584,432L583,425L568,422L559,427ZM558,380L569,389L584,382L588,362L584,364ZM673,425L684,427L692,424L695,414L683,409L673,407ZM555,500L563,499L563,500L581,495L588,484L589,481L575,474L569,473L561,475ZM576,409L570,418L568,422L583,425L584,423L577,408ZM570,418L576,409L562,406ZM584,382L590,400L604,407L613,400L603,399L601,382L598,364L588,362L588,362ZM566,394L578,407L590,400L584,382L569,389ZM584,423L604,410L604,407L590,400L578,407L577,408ZM633,414L653,429L655,429L655,429L658,407L652,407L638,404L633,403ZM583,425L584,432L611,434L612,433L604,410L584,423ZM581,498L588,509L590,509L588,484L581,495ZM595,523L599,517L590,509L588,509L572,508L571,508L576,522L576,524ZM575,474L596,452L578,446L569,473ZM595,523L576,524L578,534L588,538L593,539ZM572,508L588,509L581,498ZM578,446L596,452L599,452L610,442L611,434L584,432L576,443ZM593,539L602,541L609,548L623,554L625,554L626,552L626,533L609,514L599,517L595,523ZM590,509L599,517L609,514L615,499L616,487L616,486L602,480L589,481L588,484ZM575,474L589,481L602,480L599,452L596,452ZM611,434L610,442L627,464L653,455L653,455L619,432L612,433ZM602,480L616,486L627,464L610,442L599,452ZM633,403L624,402L613,400L604,407L604,410L612,433L619,432L621,431L633,414ZM655,429L673,425L673,407L666,406L658,407ZM664,554L648,543L626,552L625,554L639,552L648,552L663,554L664,556ZM616,487L626,488L658,483L661,482L660,473L653,455L627,464L616,486ZM609,514L626,533L634,527L638,519L638,514L633,508L615,499ZM615,499L633,508L641,502L641,500L626,488L616,487ZM626,533L626,552L648,543L654,532L651,530L634,527ZM638,514L646,507L645,506L641,502L633,508ZM655,486L645,506L646,507L657,511L664,510L672,496L671,493L670,491L661,482L658,483ZM658,483L626,488L641,500L655,486ZM619,432L653,455L655,451L655,429L653,429L621,431ZM621,431L653,429L633,414ZM655,429L655,451L673,448L684,427L673,425L655,429ZM653,455L660,473L695,461L695,456L692,452L673,448L655,451L653,455ZM638,514L638,519L649,518L657,511L646,507ZM645,506L655,486L641,500L641,502ZM692,424L692,426L717,440L727,431L723,429L710,418L700,416L695,414ZM654,532L668,530L664,510L657,511L649,518L651,530ZM634,527L651,530L649,518L638,519ZM705,572L690,569L681,573L684,583L693,594L698,596ZM664,556L671,566L680,570L681,573L690,569L690,563L677,534L672,534L664,554ZM648,543L664,554L672,534L668,530L654,532ZM661,482L670,491L698,468L695,462L695,461L660,473ZM664,510L668,530L672,534L677,534L680,533L687,504L672,496ZM741,464L756,464L768,452L763,449L746,443L738,438ZM690,563L703,538L691,533L680,533L677,534ZM673,448L692,452L692,426L692,424L684,427ZM680,533L691,533L697,511L696,506L687,504ZM670,491L671,493L700,483L703,473L698,468ZM695,456L717,441L717,440L692,426L692,452ZM696,506L702,502L700,483L671,493L672,496L687,504ZM703,538L716,536L697,511L691,533ZM695,462L717,457L720,450L717,441L695,456L695,461ZM700,483L702,502L721,503L722,502L721,478L714,475L703,473ZM690,569L705,572L705,572L717,550L719,536L716,536L703,538L690,563ZM697,511L716,536L719,536L722,535L721,503L702,502L696,506ZM716,579L705,572L705,572L698,596L705,598L718,599ZM727,574L728,566L717,550L705,572L716,579ZM716,579L718,599L719,599L726,602L736,588L735,576L727,574ZM717,550L728,566L743,546L739,538L722,535L719,536ZM698,468L703,473L714,475L717,457L695,462ZM717,457L714,475L721,478L735,470L737,467L720,450ZM717,441L720,450L737,467L741,464L738,438L736,436L727,431L717,440ZM722,535L739,538L744,532L733,503L725,502L722,502L721,503ZM722,502L725,502L741,484L735,470L721,478ZM777,487L784,496L792,495L792,493L788,479L786,476ZM740,589L736,588L726,602L733,604L744,596L746,594ZM727,574L735,576L747,574L766,570L743,546L728,566ZM736,588L740,589L747,574L735,576ZM733,503L747,501L747,501L746,488L741,484L725,502ZM737,467L735,470L741,484L746,488L761,479L756,464L741,464ZM739,538L743,546L766,570L771,572L773,554L776,551L758,524L754,525L744,532ZM744,532L754,525L749,502L747,501L733,503ZM766,570L747,574L740,589L746,594L751,590L763,584L771,574L771,572ZM754,525L758,524L773,517L774,508L766,503L749,502ZM747,501L763,489L765,483L761,479L746,488ZM776,519L786,540L795,524L795,517ZM776,519L773,517L758,524L776,551L783,544L786,540ZM772,484L777,487L786,476L781,469L780,467ZM765,483L772,484L780,467L772,455L768,452L756,464L761,479ZM747,501L749,502L766,503L763,489L747,501ZM774,508L784,496L777,487L772,484L765,483L763,489L766,503ZM784,496L774,508L773,517L776,519L795,517L794,511L792,495Z" stroke="#6a7030" stroke-opacity=".42"/>
<path d="M428,417L425,414L406,404L404,404L404,406L402,415L402,430L413,424L426,431ZM428,417L436,412L442,396L429,389L426,392L425,414ZM406,404L426,392L429,389L424,387L413,384L408,392L404,404ZM425,414L426,392L406,404ZM426,431L427,432L440,435L449,437L462,442L463,440L465,430L436,412L428,417ZM436,412L465,430L476,408L455,397L443,396L442,396ZM514,468L511,460L501,446L463,440L462,442L467,444L478,444L478,464L488,473L497,487L500,493ZM505,417L501,446L511,460L517,450L514,428ZM514,428L523,438L539,427L504,416L505,417ZM547,467L544,462L514,468L500,493L503,499L517,495L531,500L540,502L543,502ZM613,535L612,530L587,515L574,519L576,520L578,534L586,536L603,540L608,546L609,547ZM463,440L501,446L505,417L504,416L500,407L498,408L488,410L477,408L476,408L465,430ZM511,460L514,468L544,462L550,454L548,429L544,426L539,427L523,438L517,450ZM504,416L539,427L544,426L540,401L528,404L514,404L500,407ZM517,450L523,438L514,428ZM544,426L548,429L569,422L578,414L580,399L576,400L565,398L556,399L543,400L540,401ZM547,467L561,480L569,483L574,483L577,466L565,456L559,455L550,454L544,462ZM561,480L547,467L543,502L546,502ZM566,499L562,495L549,502L563,499L564,513L567,515ZM546,502L548,502L549,502L562,495L569,483L561,480ZM569,483L562,495L566,499L575,493L578,486L574,483ZM575,493L571,517L574,519L587,515L588,511L584,488L578,486ZM550,454L559,455L574,435L569,422L548,429ZM567,515L571,517L575,493L566,499ZM565,456L571,452L579,441L574,435L559,455ZM574,435L579,441L580,441L595,429L578,414L569,422ZM565,456L577,466L594,460L596,456L589,451L571,452ZM578,486L584,488L587,487L597,475L594,460L577,466L574,483ZM588,511L603,498L596,491L587,487L584,488ZM596,456L611,445L612,440L609,434L595,429L580,441L589,451ZM571,452L589,451L580,441L579,441ZM578,414L595,429L609,434L612,408L611,407L603,399L593,398L580,399ZM620,505L612,498L603,498L588,511L587,515L612,530ZM612,530L613,535L641,532L644,527L637,497L636,497L620,505ZM597,475L609,479L615,476L618,454L611,445L596,456L594,460ZM587,487L596,491L609,482L609,479L597,475ZM609,434L612,440L639,429L643,426L639,425L625,420L612,408ZM596,491L603,498L612,498L609,482ZM612,498L620,505L636,497L624,480L615,476L609,479L609,482ZM611,445L618,454L637,462L641,462L644,451L639,429L612,440ZM615,476L624,480L637,462L618,454ZM624,480L636,497L637,497L649,491L652,481L651,472L641,462L637,462ZM609,547L623,554L633,555L644,555L646,539L641,532L613,535ZM637,497L644,527L664,520L666,507L664,503L649,491ZM639,429L644,451L653,449L661,442L659,428L655,428L643,426ZM672,565L673,565L679,577L682,587L693,594L704,597L713,600ZM644,555L652,555L663,554L671,563L673,553L671,547L646,539ZM652,481L678,480L680,479L678,458L673,457L661,464L651,472ZM641,532L646,539L671,547L673,539L671,529L664,520L644,527ZM641,462L651,472L661,464L653,449L644,451ZM661,442L672,456L674,437L668,428L659,428ZM671,547L673,553L683,551L703,535L703,531L673,539ZM653,449L661,464L673,457L672,456L661,442ZM671,529L687,521L675,506L666,507L664,520ZM649,491L664,503L673,492L678,480L652,481ZM678,458L691,452L674,437L672,456L673,457ZM678,458L680,479L692,486L697,462L693,451L691,452ZM666,507L675,506L700,496L698,493L673,492L664,503ZM674,437L691,452L693,451L701,441L690,430L675,428L668,428ZM678,480L673,492L698,493L692,486L680,479ZM675,506L687,521L705,520L715,501L700,496ZM698,493L700,496L715,501L722,499L729,489L697,462L692,486ZM673,539L703,531L704,529L705,520L687,521L671,529ZM732,552L723,539L720,539L711,562L712,565L719,573ZM719,573L720,575L747,568L753,558L734,551L732,552ZM703,535L705,554L711,562L720,539L704,529L703,531ZM693,451L697,462L729,489L737,483L735,480L723,466L712,455L703,443L701,441ZM673,553L671,563L672,564L712,565L711,562L705,554L683,551ZM712,565L672,564L672,565L713,600L716,601L720,575L719,573ZM683,551L705,554L703,535ZM705,520L704,529L720,539L723,539L737,523L722,499L715,501ZM723,539L732,552L734,551L748,531L737,523ZM729,489L722,499L737,523L748,531L749,532L770,520L761,515L752,505L743,494L737,483ZM747,568L720,575L716,601L723,603L733,604L746,596L752,594L763,584L763,584ZM734,551L753,558L755,557L755,542L749,532L748,531ZM753,558L747,568L763,584L766,570L756,557L755,557ZM774,554L756,557L766,570L766,570L777,559L778,555ZM755,557L756,557L774,554L763,544L755,542ZM763,544L774,554L778,555L783,544L780,537ZM749,532L755,542L763,544L780,537L777,531L772,522L770,520Z" stroke="#7a6a34" stroke-opacity=".42"/>
<path d="M67,209L61,202L32,211L46,216L57,223ZM61,202L50,179L45,181L33,186L30,210L32,211ZM94,168L120,182L128,178L128,177L133,168L122,164L105,166L93,168ZM61,202L67,209L80,209L82,206L80,167L76,166L64,175L50,179ZM85,216L80,209L67,209L57,223L61,226L72,241L76,244ZM193,364L205,325L136,333L141,340L154,345L166,354L182,362L190,368ZM116,230L118,234L145,221L147,218L144,205L136,201L118,208ZM118,208L114,195L96,196L82,206L80,209L85,216L116,230ZM93,168L90,168L80,167L82,206L96,196L94,168ZM117,268L118,234L116,230L85,216L76,244L86,251L95,263L103,272L111,286L111,287ZM120,182L94,168L96,196L114,195ZM114,195L118,208L136,201L128,178L120,182ZM128,178L136,201L144,205L151,193L128,177ZM117,268L160,242L155,232L145,221L118,234ZM144,205L147,218L166,211L166,211L163,195L165,187L151,193ZM111,287L118,302L119,304L163,286L169,245L160,242L117,268ZM155,232L167,226L166,226L166,211L147,218L145,221ZM128,177L151,193L165,187L166,182L166,166L150,165L134,168L133,168ZM196,234L208,270L232,272L276,242L276,240L259,238L245,232L231,226L215,224L201,225L198,226ZM205,325L206,324L194,285L163,286L119,304L123,316L132,327L136,333ZM163,286L194,285L208,270L196,234L169,245ZM160,242L169,245L196,234L198,226L181,227L167,226L155,232ZM205,325L193,364L231,363L230,352L231,334L236,329L206,324ZM193,364L190,368L191,369L206,374L231,384L232,369L231,363ZM206,324L236,329L245,320L232,272L208,270L194,285ZM232,272L245,320L245,319L256,301L269,287L276,275L278,255L276,242ZM398,504L395,496L333,500L336,504L348,515L356,520ZM395,496L392,483L391,484L379,474L366,464L350,472L339,475L321,484L333,500ZM395,496L398,504L415,522L436,509L449,498L450,496L441,435L440,435L429,450L415,459L405,472L392,483ZM412,541L415,522L398,504L356,520L358,522L366,534L376,552L386,564L394,567ZM465,591L466,589L446,553L412,541L394,567L401,569L412,574L429,579L443,584L456,593L462,596ZM450,496L491,480L488,476L478,464L478,444L456,441L441,435ZM517,615L465,591L462,596L473,602L488,611L506,615L517,621ZM412,541L446,553L464,546L464,537L436,509L415,522ZM446,553L466,589L467,588L480,554L480,550L464,546ZM449,498L467,510L502,498L496,486L491,480L450,496ZM464,537L474,519L467,510L449,498L436,509ZM465,591L517,615L520,590L469,587L467,588L466,589ZM464,546L480,550L496,530L474,519L464,537ZM467,588L469,587L502,568L480,554ZM496,530L509,527L517,498L517,498L503,499L502,498L467,510L474,519ZM560,526L574,522L572,516L563,499L548,497L536,496ZM509,527L532,558L537,556L560,526L536,496L535,496L517,498ZM480,554L502,568L526,569L532,558L509,527L496,530L480,550ZM469,587L520,590L525,579L526,569L502,568ZM517,615L517,621L518,621L538,624L559,624L564,623L558,601L525,579L520,590ZM525,579L558,601L568,582L560,564L537,556L532,558L526,569ZM635,621L624,613L619,611L591,623L595,624L609,625L623,629L632,632ZM564,623L578,621L582,622L592,591L568,582L558,601ZM537,556L560,564L565,563L584,537L578,534L574,522L560,526ZM565,563L604,567L618,552L608,549L592,540L584,537ZM568,582L592,591L598,586L604,567L565,563L560,564ZM582,622L591,623L619,611L612,597L598,586L592,591ZM598,586L612,597L629,590L629,590L633,568L631,555L623,554L618,552L604,567ZM619,611L624,613L629,590L612,597ZM659,618L658,617L652,611L651,612L635,621L632,632L640,635L657,636L662,637ZM635,621L651,612L629,590L629,590L624,613ZM629,590L651,612L652,611L655,603L633,568ZM633,568L655,603L680,578L671,566L663,554L642,556L631,555ZM652,611L658,617L672,616L689,589L681,578L680,578L655,603ZM701,621L734,623L740,602L733,604L715,600L695,595ZM734,623L701,621L689,626L687,638L687,639L690,638L703,642L717,637L728,638L734,639ZM662,637L673,639L687,639L687,638L659,618ZM689,626L685,620L672,616L658,617L659,618L687,638ZM672,616L685,620L693,594L693,594L689,589ZM685,620L689,626L701,621L695,595L693,594ZM734,623L734,639L744,640L757,638L772,638L776,639L780,611L778,610L763,600L746,600L740,602ZM776,639L788,641L800,640L795,618L780,611Z" stroke="#3f8a5c" stroke-opacity=".42"/>
<path d="M301,367L304,364L303,352L269,340L231,352L229,360L231,370L231,384L233,388ZM294,466L307,422L291,415L285,413L253,421L254,427L260,438L261,449L272,458L284,463L292,467ZM269,340L274,305L266,297L256,301L246,311L241,321L231,334L232,349L231,352ZM274,305L269,340L303,352L312,338L297,311L283,306ZM274,305L283,306L294,287L282,290L271,295L266,297ZM301,367L285,413L291,415L324,380L304,364ZM285,413L301,367L233,388L239,397L246,403L251,414L253,421ZM297,311L318,282L309,284L296,286L294,287L283,306ZM337,297L345,297L348,294L364,276L353,276L341,279L327,281ZM294,466L333,451L319,421L307,422ZM304,364L324,380L344,393L351,393L365,375L363,367L335,328L312,338L303,352ZM312,338L335,328L336,326L337,297L327,281L321,282L318,282L297,311ZM319,421L333,451L334,452L348,446L371,426L351,393L344,393ZM344,393L324,380L291,415L307,422L319,421ZM334,452L333,451L294,466L292,467L296,469L306,479L321,484L331,481L339,475ZM339,475L342,473L355,468L362,466L348,446L334,452ZM335,328L363,367L374,333L365,324L363,323L336,326ZM371,462L369,466L377,471L391,484L401,474L409,469L412,467ZM351,393L371,426L376,428L405,432L404,429L402,430L403,421L394,385L377,373L365,375ZM336,326L363,323L363,319L359,299L345,297L337,297ZM365,375L377,373L398,356L404,331L374,333L363,367ZM366,284L366,298L371,300L379,300L374,291L368,279ZM345,297L359,299L366,298L366,284L348,294ZM348,294L366,284L368,279L366,276L364,276ZM365,324L383,308L380,303L379,300L371,300L363,319L363,323ZM348,446L362,466L366,464L369,466L371,462L376,428L371,426ZM363,319L371,300L366,298L359,299ZM365,324L374,333L404,331L409,326L397,323L386,316L383,308ZM398,356L377,373L394,385L410,385L407,362ZM407,362L421,366L434,350L429,340L416,335L410,326L409,326L404,331L398,356ZM421,366L426,382L440,378L436,367L435,353L434,350ZM371,462L412,467L418,460L429,450L422,440L421,438L405,432L376,428ZM421,438L413,424L404,429L405,432ZM410,385L394,385L403,421L403,416L404,405L408,392L416,387ZM416,387L422,384L426,382L421,366L407,362L410,385Z" stroke="#3b4690" stroke-opacity=".45"/>
</g>
<g fill="#c5282f"><circle cx="147" cy="68" r="4.3"/><circle cx="463" cy="120" r="4.3"/><circle cx="435" cy="187" r="4.3"/><circle cx="217" cy="188" r="4.3"/><circle cx="310" cy="232" r="4.3"/><circle cx="120" cy="263" r="4.3"/><circle cx="163" cy="252" r="4.3"/><circle cx="115" cy="296" r="4.3"/><circle cx="130" cy="302" r="4.3"/><circle cx="160" cy="295" r="4.3"/><circle cx="170" cy="298" r="4.3"/><circle cx="130" cy="320" r="4.3"/><circle cx="136" cy="325" r="4.3"/><circle cx="141" cy="329" r="4.3"/><circle cx="405" cy="350" r="4.3"/><circle cx="385" cy="373" r="4.3"/><circle cx="345" cy="372" r="4.3"/><circle cx="355" cy="370" r="4.3"/><circle cx="330" cy="372" r="4.3"/><circle cx="325" cy="388" r="4.3"/><circle cx="340" cy="390" r="4.3"/><circle cx="355" cy="385" r="4.3"/><circle cx="345" cy="395" r="4.3"/><circle cx="333" cy="405" r="4.3"/><circle cx="360" cy="405" r="4.3"/><circle cx="270" cy="397" r="4.3"/><circle cx="296" cy="402" r="4.3"/><circle cx="372" cy="428" r="4.3"/><circle cx="262" cy="442" r="4.3"/><circle cx="492" cy="450" r="4.3"/><circle cx="535" cy="440" r="4.3"/><circle cx="590" cy="446" r="4.3"/><circle cx="566" cy="462" r="4.3"/><circle cx="595" cy="480" r="4.3"/><circle cx="590" cy="487" r="4.3"/><circle cx="593" cy="510" r="4.3"/><circle cx="392" cy="507" r="4.3"/><circle cx="478" cy="528" r="4.3"/><circle cx="462" cy="558" r="4.3"/><circle cx="470" cy="555" r="4.3"/><circle cx="740" cy="531" r="4.3"/><circle cx="690" cy="463" r="4.3"/></g>
<rect x="598" y="131" width="191" height="227" fill="#fdfdfb"/>
<circle cx="628" cy="156" r="4.6" fill="#c5282f"/>
<g fill="#111" stroke="#111" stroke-width=".5" font-size="19.5">
<text x="654" y="164" textLength="78" lengthAdjust="spacingAndGlyphs">Stazioni</text>
<text x="605" y="207" textLength="102" lengthAdjust="spacingAndGlyphs">zone 2021</text>
<text x="656" y="240" textLength="72" lengthAdjust="spacingAndGlyphs">IT1216</text>
<text x="656" y="275" textLength="72" lengthAdjust="spacingAndGlyphs">IT1217</text>
<text x="656" y="310" textLength="72" lengthAdjust="spacingAndGlyphs">IT1218</text>
<text x="656" y="343" textLength="72" lengthAdjust="spacingAndGlyphs">IT1219</text>
</g>
<g stroke="#9aa39a" stroke-width="1">
<rect x="607" y="220" width="39" height="22" fill="#dfe287"/>
<rect x="607" y="255" width="39" height="22" fill="#e4d8a4"/>
<rect x="607" y="290" width="39" height="22" fill="#a9e2c2"/>
<rect x="607" y="324" width="39" height="22" fill="#6c80c9"/>
</g>
</g></g></svg>
<svg class="a" style="left:55.7px;top:880.7px" width="270" height="215" viewBox="0 0 826 658" font-family="Liberation Sans, sans-serif">
<defs><clipPath id="c2"><rect x="27" y="30" width="778" height="595" rx="42"/></clipPath>
<filter id="b2" x="-5%" y="-5%" width="110%" height="110%"><feGaussianBlur stdDeviation="7"/></filter></defs>
<g clip-path="url(#c2)">
<rect x="20" y="20" width="800" height="620" fill="#f6f5f1"/>
<g filter="url(#b2)"><polygon points="400,70 470,45 540,90 565,160 595,230 605,290 560,325 500,300 470,250 440,200 410,140" fill="#e6eedb"/><polygon points="40,55 130,85 175,140 120,175 50,140" fill="#eaf1e0"/><polygon points="150,190 250,180 275,250 200,285 140,250" fill="#e8f0de"/><polygon points="640,250 740,228 795,300 700,345 640,310" fill="#e8f0de"/><polygon points="380,400 450,388 472,440 400,462" fill="#e6eedb"/><polygon points="560,380 640,400 620,442 560,430" fill="#eaf1e0"/><polygon points="620,520 760,540 795,605 650,612" fill="#eaf1e0"/><polygon points="600,40 700,50 720,120 640,140 590,100" fill="#e8f0de"/><polygon points="290,90 360,80 380,160 310,180" fill="#e8f0de"/><ellipse cx="318" cy="352" rx="40" ry="30" fill="#efede8"/></g>
<ellipse cx="212" cy="228" rx="20" ry="17" fill="#b7c5e6"/><circle cx="184" cy="131" r="8" fill="#b7c5e6"/>
<g fill="none" stroke="#fffdf6" stroke-width="4" stroke-linejoin="round" opacity=".95"><path d="M312,348 L250,300 L180,210 L150,120 L120,40"/><path d="M312,348 L330,260 L330,150 L300,40"/><path d="M312,348 L400,300 L520,250 L640,200 L800,180"/><path d="M312,348 L400,400 L520,450 L640,500 L800,560"/><path d="M312,348 L330,450 L420,540 L470,600"/><path d="M312,348 L230,390 L150,330 L60,270"/><path d="M312,348 L260,430"/></g>
<g fill="none" stroke="#dedbd2" stroke-width="1.1" stroke-linejoin="round"><path d="M312,348 L250,300 L180,210 L150,120 L120,40"/><path d="M312,348 L330,260 L330,150 L300,40"/><path d="M312,348 L400,300 L520,250 L640,200 L800,180"/><path d="M312,348 L400,400 L520,450 L640,500 L800,560"/><path d="M312,348 L330,450 L420,540 L470,600"/><path d="M312,348 L230,390 L150,330 L60,270"/><path d="M312,348 L260,430"/></g>
<polygon points="20,248 45,255 60,262 100,288 135,305 165,340 185,375 215,410 245,432 275,465 305,505 335,545 355,570 385,592 430,600 470,605 500,615 525,632 525,640 20,640" fill="#c9d4ee"/>
<g font-size="8.5" fill="#c2b9a6"><text x="430" y="40">Terni</text><text x="95" y="120">Viterbo</text><text x="60" y="285">Civitavecchia</text><text x="160" y="250">Bracciano</text><text x="320" y="275">Monterotondo</text><text x="440" y="318">Tivoli</text><text x="300" y="372">Roma</text><text x="170" y="378">Fiumicino</text><text x="215" y="440">Pomezia</text><text x="345" y="512">Aprilia</text><text x="330" y="585">Anzio</text><text x="690" y="285">Avezzano</text><text x="690" y="440">Sora</text><text x="480" y="440">Colleferro</text><text x="370" y="412">Frascati</text><text x="520" y="245">Rieti</text><text x="740" y="40">L’Aquila</text><text x="420" y="290">Guidonia</text><text x="190" y="415">Ladispoli</text><text x="250" y="110">Orte</text><text x="720" y="245">Celano</text><text x="400" y="470">Velletri</text><text x="420" y="520">Cisterna</text><text x="640" y="470">Alatri</text><text x="640" y="525">Ceccano</text><text x="560" y="345">Subiaco</text><text x="590" y="265">Carsoli</text><text x="55" y="165">Tarquinia</text><text x="560" y="560">Sezze</text><text x="500" y="600">Sabaudia</text></g>
<g font-size="11" font-weight="700" fill="#1d1d2a"><circle cx="140" cy="68" r="12.3" fill="#2e6ccf" stroke="#fff" stroke-width="1"/><path d="M134,68.5 L140,62 L146,68.5 L144,68.5 L144,73.5 L136,73.5 L136,68.5Z" fill="#fff"/><rect x="138.5" y="69.5" width="3" height="4" fill="#2e6ccf"/><text x="158" y="72" textLength="139" lengthAdjust="spacingAndGlyphs">Viterbo - Aeroporto Mi...</text><circle cx="437" cy="73" r="12.3" fill="#2e6ccf" stroke="#fff" stroke-width="1"/><path d="M431,73.5 L437,67 L443,73.5 L441,73.5 L441,78.5 L433,78.5 L433,73.5Z" fill="#fff"/><rect x="435.5" y="74.5" width="3" height="4" fill="#2e6ccf"/><text x="455" y="77" textLength="90" lengthAdjust="spacingAndGlyphs">Rieti - Ist. Jucci</text><circle cx="222" cy="355" r="12.3" fill="#2e6ccf" stroke="#fff" stroke-width="1"/><path d="M216,355.5 L222,349 L228,355.5 L226,355.5 L226,360.5 L218,360.5 L218,355.5Z" fill="#fff"/><rect x="220.5" y="356.5" width="3" height="4" fill="#2e6ccf"/><text x="240" y="359" textLength="112" lengthAdjust="spacingAndGlyphs">RM - Castel di Guido</text><circle cx="312" cy="345" r="12.3" fill="#2e6ccf" stroke="#fff" stroke-width="1"/><path d="M306,345.5 L312,339 L318,345.5 L316,345.5 L316,350.5 L308,350.5 L308,345.5Z" fill="#fff"/><rect x="310.5" y="346.5" width="3" height="4" fill="#2e6ccf"/><circle cx="375" cy="335" r="12.3" fill="#2e6ccf" stroke="#fff" stroke-width="1"/><path d="M369,335.5 L375,329 L381,335.5 L379,335.5 L379,340.5 L371,340.5 L371,335.5Z" fill="#fff"/><rect x="373.5" y="336.5" width="3" height="4" fill="#2e6ccf"/><text x="393" y="339" textLength="79" lengthAdjust="spacingAndGlyphs">RM - Cavaliere</text><circle cx="370" cy="380" r="12.3" fill="#2e6ccf" stroke="#fff" stroke-width="1"/><path d="M364,380.5 L370,374 L376,380.5 L374,380.5 L374,385.5 L366,385.5 L366,380.5Z" fill="#fff"/><rect x="368.5" y="381.5" width="3" height="4" fill="#2e6ccf"/><text x="388" y="384" textLength="127" lengthAdjust="spacingAndGlyphs">RM - CNR Tor Vergata</text><circle cx="623" cy="485" r="12.3" fill="#2e6ccf" stroke="#fff" stroke-width="1"/><path d="M617,485.5 L623,479 L629,485.5 L627,485.5 L627,490.5 L619,490.5 L619,485.5Z" fill="#fff"/><rect x="621.5" y="486.5" width="3" height="4" fill="#2e6ccf"/><text x="641" y="489" textLength="136" lengthAdjust="spacingAndGlyphs">Frosinone - Aeroporto ...</text><circle cx="447" cy="566" r="12.3" fill="#2e6ccf" stroke="#fff" stroke-width="1"/><path d="M441,566.5 L447,560 L453,566.5 L451,566.5 L451,571.5 L443,571.5 L443,566.5Z" fill="#fff"/><rect x="445.5" y="567.5" width="3" height="4" fill="#2e6ccf"/><text x="465" y="570" textLength="37" lengthAdjust="spacingAndGlyphs">Latina</text></g>
</g>
<rect x="27" y="30" width="778" height="595" rx="42" fill="none" stroke="#56bbed" stroke-width="4.6"/>
</svg>
<span class="t" style="left:78.90px;top:47.82px;font-size:20.4px;line-height:20.4px;font-weight:700;color:#56bbed;transform-origin:0 50%;transform:scaleX(0.9048);">ARIA</span>
<span class="t" style="left:265.80px;top:79.80px;font-size:19px;line-height:19px;font-weight:700;color:#fff;transform-origin:0 50%;transform:scaleX(1.0464);">MONITORAGGIO</span>
<span class="t" style="left:431.40px;top:79.80px;font-size:19px;line-height:19px;font-weight:700;color:#fff;transform-origin:0 50%;transform:scaleX(0.8353);">DELLA</span>
<span class="t" style="left:490.50px;top:79.80px;font-size:19px;line-height:19px;font-weight:700;color:#fff;transform-origin:0 50%;transform:scaleX(0.9534);">QUALITÀ</span>
<span class="t" style="left:577.10px;top:79.80px;font-size:19px;line-height:19px;font-weight:700;color:#fff;transform-origin:0 50%;transform:scaleX(0.9005);">DELL’ARIA</span>
<span class="t" style="left:91.30px;top:102.31px;font-size:25.5px;line-height:25.5px;font-weight:700;color:#56bbed;">55</span>
<span class="t" style="left:128.80px;top:109.00px;font-size:17px;line-height:17px;color:#333;letter-spacing:0.547px;">stazioni di monitoraggio</span>
<span class="t" style="left:91.50px;top:131.31px;font-size:25.5px;line-height:25.5px;font-weight:700;color:#56bbed;">+3</span>
<span class="t" style="left:128.80px;top:138.00px;font-size:17px;line-height:17px;color:#333;letter-spacing:0.306px;">mezzi mobili</span>
<span class="t" style="left:94.00px;top:314.51px;font-size:24.5px;line-height:24.5px;font-weight:700;color:#56bbed;letter-spacing:0.355px;">11 superamenti</span>
<span class="t" style="left:282.70px;top:320.50px;font-size:17px;line-height:17px;color:#333;letter-spacing:0.300px;">dei valori limite nel 2022</span>
<span class="t" style="left:92.80px;top:508.51px;font-size:25px;line-height:25px;font-weight:700;color:#56bbed;letter-spacing:-0.325px;">Confronto</span>
<span class="t" style="left:217.00px;top:515.50px;font-size:17px;line-height:17px;color:#333;letter-spacing:0.122px;">dati 2021 e 2022</span>
<span class="t" style="left:352.00px;top:517.51px;font-size:14px;line-height:14px;color:#333;letter-spacing:0.417px;">(media dei valori registrati nelle diverse zone)</span>
<span class="t" style="left:91.30px;top:851.31px;font-size:25.5px;line-height:25.5px;font-weight:700;color:#56bbed;">8</span>
<span class="t" style="left:111.00px;top:856.71px;font-size:18px;line-height:18px;color:#333;letter-spacing:0.135px;">stazioni micro-meteorologiche</span>
<span class="t" style="left:383.30px;top:824.90px;font-size:20px;line-height:20px;font-weight:700;color:#fff;transform-origin:0 50%;transform:scaleX(0.7311);">RETE</span>
<span class="t" style="left:428.50px;top:824.90px;font-size:20px;line-height:20px;font-weight:700;color:#fff;transform-origin:0 50%;transform:scaleX(0.9464);">MICRO-METEOROLOGICA</span>
<span class="t" style="left:147.40px;top:359.61px;font-size:12.6px;line-height:12.6px;font-weight:700;color:#fff;transform:translateX(-50%);">Zona</span>
<span class="t" style="left:257.50px;top:359.61px;font-size:12.6px;line-height:12.6px;font-weight:700;color:#fff;transform:translateX(-50%);">SO<sub>2</sub></span>
<span class="t" style="left:305.70px;top:359.61px;font-size:12.6px;line-height:12.6px;font-weight:700;color:#fff;transform:translateX(-50%);">NO<sub>2</sub></span>
<span class="t" style="left:355.50px;top:359.61px;font-size:12.6px;line-height:12.6px;font-weight:700;color:#fff;transform:translateX(-50%);">PM10</span>
<span class="t" style="left:405.55px;top:359.61px;font-size:12.6px;line-height:12.6px;font-weight:700;color:#fff;transform:translateX(-50%);">PM2.5</span>
<span class="t" style="left:448.30px;top:359.61px;font-size:12.6px;line-height:12.6px;font-weight:700;color:#fff;transform:translateX(-50%);">CO</span>
<span class="t" style="left:485.20px;top:359.61px;font-size:12.6px;line-height:12.6px;font-weight:700;color:#fff;transform:translateX(-50%);">O<sub>3</sub></span>
<span class="t" style="left:536.40px;top:359.61px;font-size:12.6px;line-height:12.6px;font-weight:700;color:#fff;transform:translateX(-50%);">Benzene</span>
<span class="t" style="left:593.45px;top:359.61px;font-size:12.6px;line-height:12.6px;font-weight:700;color:#fff;transform:translateX(-50%);">B(a)P</span>
<span class="t" style="left:645.35px;top:359.61px;font-size:12.6px;line-height:12.6px;font-weight:700;color:#fff;transform:translateX(-50%);">Metalli</span>
<span class="t" style="left:64.70px;top:384.31px;font-size:13.5px;line-height:13.5px;color:#3a3a3a;letter-spacing:-0.011px;">Agglomerato di Roma 2021</span>
<span class="t" style="left:84.80px;top:410.06px;font-size:13.5px;line-height:13.5px;color:#3a3a3a;letter-spacing:-0.087px;">Valle del Sacco 2021</span>
<span class="t" style="left:93.50px;top:435.87px;font-size:13.5px;line-height:13.5px;color:#3a3a3a;letter-spacing:-0.053px;">Appenninica 2021</span>
<span class="t" style="left:103.60px;top:461.37px;font-size:13.5px;line-height:13.5px;color:#3a3a3a;letter-spacing:-0.283px;">Litoranea 2021</span>
<span class="t" style="left:305.70px;top:385.41px;font-size:12.2px;line-height:12.2px;color:#fff;transform:translateX(-50%);">1</span>
<span class="t" style="left:355.50px;top:385.41px;font-size:12.2px;line-height:12.2px;color:#fff;transform:translateX(-50%);">1</span>
<span class="t" style="left:355.50px;top:411.16px;font-size:12.2px;line-height:12.2px;color:#fff;transform:translateX(-50%);">5</span>
<span class="t" style="left:405.55px;top:411.16px;font-size:12.2px;line-height:12.2px;color:#fff;transform:translateX(-50%);">1</span>
<span class="t" style="left:593.45px;top:411.16px;font-size:12.2px;line-height:12.2px;color:#fff;transform:translateX(-50%);">2</span>
<span class="t" style="left:485.20px;top:462.46px;font-size:12.2px;line-height:12.2px;color:#fff;transform:translateX(-50%);">1</span>
<span class="t" style="left:161.20px;top:550.81px;font-size:10px;line-height:10px;color:#3a3a3a;transform:translateX(-100%);">03</span>
<span class="t" style="left:161.20px;top:569.65px;font-size:10px;line-height:10px;color:#3a3a3a;transform:translateX(-100%);">PM10</span>
<span class="t" style="left:161.20px;top:588.02px;font-size:10px;line-height:10px;color:#3a3a3a;transform:translateX(-100%);">NO2</span>
<span class="t" style="left:161.20px;top:606.40px;font-size:10px;line-height:10px;color:#3a3a3a;transform:translateX(-100%);">03</span>
<span class="t" style="left:161.20px;top:625.11px;font-size:10px;line-height:10px;color:#3a3a3a;transform:translateX(-100%);">PM10</span>
<span class="t" style="left:161.20px;top:643.65px;font-size:10px;line-height:10px;color:#3a3a3a;transform:translateX(-100%);">NO2</span>
<span class="t" style="left:161.20px;top:662.45px;font-size:10px;line-height:10px;color:#3a3a3a;transform:translateX(-100%);">03</span>
<span class="t" style="left:161.20px;top:680.95px;font-size:10px;line-height:10px;color:#3a3a3a;transform:translateX(-100%);">PM10</span>
<span class="t" style="left:161.20px;top:699.56px;font-size:10px;line-height:10px;color:#3a3a3a;transform:translateX(-100%);">NO2</span>
<span class="t" style="left:161.20px;top:718.56px;font-size:10px;line-height:10px;color:#3a3a3a;transform:translateX(-100%);">03</span>
<span class="t" style="left:161.20px;top:736.86px;font-size:10px;line-height:10px;color:#3a3a3a;transform:translateX(-100%);">PM10</span>
<span class="t" style="left:161.20px;top:755.36px;font-size:10px;line-height:10px;color:#3a3a3a;transform:translateX(-100%);">NO2</span>
<span class="t" style="left:100.50px;top:562.05px;font-size:9.8px;line-height:9.8px;color:#3a3a3a;transform:translateX(-50%);">Zona</span>
<span class="t" style="left:100.50px;top:574.27px;font-size:9.8px;line-height:9.8px;color:#3a3a3a;transform:translateX(-50%);">litoranea</span>
<span class="t" style="left:100.50px;top:617.86px;font-size:9.8px;line-height:9.8px;color:#3a3a3a;transform:translateX(-50%);">Zona</span>
<span class="t" style="left:100.50px;top:630.05px;font-size:9.8px;line-height:9.8px;color:#3a3a3a;transform:translateX(-50%);">appenninica</span>
<span class="t" style="left:100.50px;top:673.96px;font-size:9.8px;line-height:9.8px;color:#3a3a3a;transform:translateX(-50%);">Valle del</span>
<span class="t" style="left:100.50px;top:686.16px;font-size:9.8px;line-height:9.8px;color:#3a3a3a;transform:translateX(-50%);">Sacco</span>
<span class="t" style="left:100.50px;top:729.96px;font-size:9.8px;line-height:9.8px;color:#3a3a3a;transform:translateX(-50%);">Agglomerato</span>
<span class="t" style="left:100.50px;top:742.16px;font-size:9.8px;line-height:9.8px;color:#3a3a3a;transform:translateX(-50%);">di Roma</span>
<span class="t" style="left:166.90px;top:773.91px;font-size:8.2px;line-height:8.2px;color:#3a3a3a;transform:translateX(-50%);">0</span>
<span class="t" style="left:199.00px;top:773.91px;font-size:8.2px;line-height:8.2px;color:#3a3a3a;transform:translateX(-50%);">5</span>
<span class="t" style="left:232.70px;top:773.91px;font-size:8.2px;line-height:8.2px;color:#3a3a3a;transform:translateX(-50%);">10</span>
<span class="t" style="left:269.30px;top:773.91px;font-size:8.2px;line-height:8.2px;color:#3a3a3a;transform:translateX(-50%);">15</span>
<span class="t" style="left:305.00px;top:773.91px;font-size:8.2px;line-height:8.2px;color:#3a3a3a;transform:translateX(-50%);">20</span>
<span class="t" style="left:341.00px;top:773.91px;font-size:8.2px;line-height:8.2px;color:#3a3a3a;transform:translateX(-50%);">25</span>
<span class="t" style="left:378.30px;top:773.91px;font-size:8.2px;line-height:8.2px;color:#3a3a3a;transform:translateX(-50%);">30</span>
<span class="t" style="left:260.30px;top:785.30px;font-size:8.2px;line-height:8.2px;font-weight:700;color:#3a3a3a;transform:translateX(-50%);">µg/m<sup>3</sup></span>
<span class="t" style="left:405.30px;top:658.01px;font-size:12.6px;line-height:12.6px;color:#222;">2022</span>
<span class="t" style="left:405.30px;top:682.22px;font-size:12.6px;line-height:12.6px;color:#222;">2021</span>
<span class="t" style="left:572.40px;top:561.41px;font-size:12.5px;line-height:12.5px;font-weight:700;color:#56bbed;transform:translateX(-50%);">ANALISI</span>
<span class="t" style="left:477.30px;top:583.40px;font-size:13px;line-height:13px;color:#3a3a3a;letter-spacing:0.280px;word-spacing:-0.129px;">Dal confronto dei dati si eviden-</span>
<span class="t" style="left:477.30px;top:598.40px;font-size:13px;line-height:13px;color:#3a3a3a;letter-spacing:0.280px;word-spacing:1.686px;">zia un andamento decrescente</span>
<span class="t" style="left:477.30px;top:613.40px;font-size:13px;line-height:13px;color:#3a3a3a;letter-spacing:0.280px;word-spacing:-0.793px;">dei valori di ozono per la zona li-</span>
<span class="t" style="left:477.30px;top:628.40px;font-size:13px;line-height:13px;color:#3a3a3a;letter-spacing:0.280px;word-spacing:3.542px;">toranea, appenninica e per la</span>
<span class="t" style="left:477.30px;top:643.40px;font-size:13px;line-height:13px;color:#3a3a3a;letter-spacing:0.280px;word-spacing:6.101px;">Valle del Sacco, mentre per</span>
<span class="t" style="left:477.30px;top:658.40px;font-size:13px;line-height:13px;color:#3a3a3a;letter-spacing:0.248px;">Roma i valori sono aumentati.</span>
<span class="t" style="left:477.30px;top:673.40px;font-size:13px;line-height:13px;color:#3a3a3a;letter-spacing:0.280px;word-spacing:1.806px;">Su scala regionale, i valori del</span>
<span class="t" style="left:477.30px;top:688.40px;font-size:13px;line-height:13px;color:#3a3a3a;letter-spacing:0.280px;word-spacing:2.210px;">PM10 e dell’NO<sub>2</sub> sono sostan-</span>
<span class="t" style="left:477.30px;top:703.40px;font-size:13px;line-height:13px;color:#3a3a3a;letter-spacing:0.280px;word-spacing:2.261px;">zialmente invariati nel 2022 ri-</span>
<span class="t" style="left:477.30px;top:718.40px;font-size:13px;line-height:13px;color:#3a3a3a;letter-spacing:0.080px;">spetto al 2021.</span>
<span class="t" style="left:337.80px;top:949.51px;font-size:11.6px;line-height:11.6px;font-weight:700;color:#111;">AL001</span>
<span class="t" style="left:399.10px;top:949.52px;font-size:12.2px;line-height:12.2px;color:#3a3a3a;letter-spacing:0.525px;">Roma – CNR Tor Vergata</span>
<span class="t" style="left:629.20px;top:949.52px;font-size:12.2px;line-height:12.2px;color:#3a3a3a;letter-spacing:0.300px;transform:translateX(-50%);">93,4</span>
<span class="t" style="left:337.80px;top:970.65px;font-size:11.6px;line-height:11.6px;font-weight:700;color:#111;">AL003</span>
<span class="t" style="left:399.10px;top:970.66px;font-size:12.2px;line-height:12.2px;color:#3a3a3a;letter-spacing:0.709px;">Roma – Tenuta del Cavaliere</span>
<span class="t" style="left:629.20px;top:970.66px;font-size:12.2px;line-height:12.2px;color:#3a3a3a;letter-spacing:0.300px;transform:translateX(-50%);">87,6</span>
<span class="t" style="left:337.80px;top:991.81px;font-size:11.6px;line-height:11.6px;font-weight:700;color:#111;">AL004</span>
<span class="t" style="left:399.10px;top:991.80px;font-size:12.2px;line-height:12.2px;color:#3a3a3a;letter-spacing:0.667px;">Roma – Castel di Guido</span>
<span class="t" style="left:629.20px;top:991.80px;font-size:12.2px;line-height:12.2px;color:#3a3a3a;letter-spacing:0.300px;transform:translateX(-50%);">98,2</span>
<span class="t" style="left:337.80px;top:1012.96px;font-size:11.6px;line-height:11.6px;font-weight:700;color:#111;">AL007</span>
<span class="t" style="left:399.10px;top:1012.96px;font-size:12.2px;line-height:12.2px;color:#3a3a3a;letter-spacing:0.894px;">Roma – Boncompagni</span>
<span class="t" style="left:629.20px;top:1012.96px;font-size:12.2px;line-height:12.2px;color:#3a3a3a;letter-spacing:0.300px;transform:translateX(-50%);">89,0</span>
<span class="t" style="left:337.80px;top:1034.11px;font-size:11.6px;line-height:11.6px;font-weight:700;color:#111;">AL006</span>
<span class="t" style="left:399.10px;top:1034.11px;font-size:12.2px;line-height:12.2px;color:#3a3a3a;letter-spacing:0.287px;">Frosinone</span>
<span class="t" style="left:629.20px;top:1034.11px;font-size:12.2px;line-height:12.2px;color:#3a3a3a;letter-spacing:0.300px;transform:translateX(-50%);">90,9</span>
<span class="t" style="left:337.80px;top:1055.26px;font-size:11.6px;line-height:11.6px;font-weight:700;color:#111;">AL002</span>
<span class="t" style="left:399.10px;top:1055.27px;font-size:12.2px;line-height:12.2px;color:#3a3a3a;letter-spacing:0.776px;">Latina</span>
<span class="t" style="left:629.20px;top:1055.27px;font-size:12.2px;line-height:12.2px;color:#3a3a3a;letter-spacing:0.300px;transform:translateX(-50%);">87,7</span>
<span class="t" style="left:337.80px;top:1076.40px;font-size:11.6px;line-height:11.6px;font-weight:700;color:#111;">AL005</span>
<span class="t" style="left:399.10px;top:1076.41px;font-size:12.2px;line-height:12.2px;color:#3a3a3a;letter-spacing:0.277px;">Rieti</span>
<span class="t" style="left:629.20px;top:1076.41px;font-size:12.2px;line-height:12.2px;color:#3a3a3a;letter-spacing:0.300px;transform:translateX(-50%);">97,4</span>
<span class="t" style="left:337.80px;top:1097.56px;font-size:11.6px;line-height:11.6px;font-weight:700;color:#111;">AL008</span>
<span class="t" style="left:399.10px;top:1097.55px;font-size:12.2px;line-height:12.2px;color:#3a3a3a;letter-spacing:0.899px;">Viterbo</span>
<span class="t" style="left:629.20px;top:1097.55px;font-size:12.2px;line-height:12.2px;color:#3a3a3a;letter-spacing:0.300px;transform:translateX(-50%);">86,1</span>
<span class="t" style="left:365.00px;top:911.91px;font-size:12.4px;line-height:12.4px;font-weight:700;color:#fff;transform:translateX(-50%);">Sigla</span>
<span class="t" style="left:490.00px;top:911.92px;font-size:12.8px;line-height:12.8px;font-weight:700;color:#fff;transform:translateX(-50%);">Località</span>
<span class="t" style="left:629.30px;top:896.72px;font-size:12.6px;line-height:12.6px;font-weight:700;color:#fff;transform:translateX(-50%);">Efficienza</span>
<span class="t" style="left:629.30px;top:911.86px;font-size:12.6px;line-height:12.6px;font-weight:700;color:#fff;transform:translateX(-50%);">annuale</span>
<span class="t" style="left:629.30px;top:927.01px;font-size:12.6px;line-height:12.6px;font-weight:700;color:#fff;transform:translateX(-50%);">della rete (%)</span>
<span class="t" style="left:758.25px;top:118.30px;transform-origin:0 0;font-size:26.4px;line-height:26.4px;font-weight:700;color:#fff;letter-spacing:-0.836px;transform:rotate(90deg);">Scheda 2:</span>
<span class="t" style="left:758.25px;top:246.70px;transform-origin:0 0;font-size:26.4px;line-height:26.4px;color:#fff;transform:rotate(90deg) scaleX(1.2006);-webkit-text-stroke:0.55px #56bbed;">dati</span>
<span class="t" style="left:758.25px;top:303.10px;transform-origin:0 0;font-size:26.4px;line-height:26.4px;color:#fff;transform:rotate(90deg) scaleX(1.0645);-webkit-text-stroke:0.55px #56bbed;">qualità</span>
<span class="t" style="left:758.25px;top:392.50px;transform-origin:0 0;font-size:26.4px;line-height:26.4px;color:#fff;transform:rotate(90deg) scaleX(1.0841);-webkit-text-stroke:0.55px #56bbed;">dell’aria</span>
<span class="t" style="left:758.25px;top:498.40px;transform-origin:0 0;font-size:26.4px;line-height:26.4px;color:#fff;transform:rotate(90deg);-webkit-text-stroke:0.55px #56bbed;">-</span>
<span class="t" style="left:758.25px;top:513.80px;transform-origin:0 0;font-size:26.4px;line-height:26.4px;color:#fff;letter-spacing:-0.906px;transform:rotate(90deg);-webkit-text-stroke:0.55px #56bbed;">2022</span>
</body></html>
